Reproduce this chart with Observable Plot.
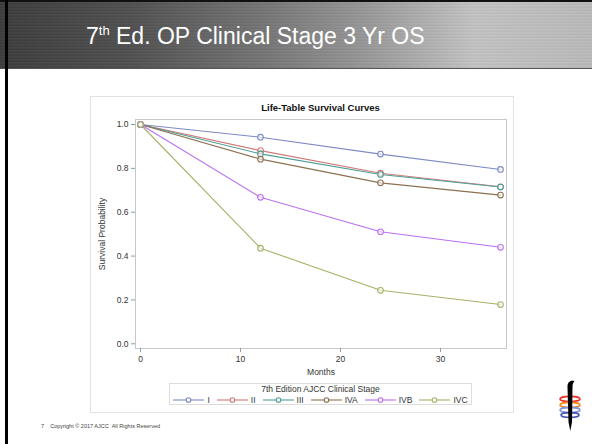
<!DOCTYPE html>
<html><head><meta charset="utf-8">
<script src="https://cdn.jsdelivr.net/npm/d3@7"></script>
<script src="https://cdn.jsdelivr.net/npm/@observablehq/plot@0.6"></script>
<style>
html,body{margin:0;padding:0;background:#fff;}
#slide{position:relative;width:592px;height:444px;overflow:hidden;background:#fff;font-family:"Liberation Sans",Arial,sans-serif;}
#bar{position:absolute;left:0;top:0;width:592px;height:68px;
 background:
  repeating-linear-gradient(180deg, rgba(255,255,255,0.05) 0px, rgba(0,0,0,0.07) 1px, rgba(255,255,255,0.05) 3px),
  linear-gradient(90deg,#3c3c3c 0%,#505050 22%,#777 45%,#9a9a9a 62%,#c6c6c6 80%,#bdbdbd 100%);
 border-bottom:1px solid #555;}
#title{position:absolute;left:86px;top:23px;color:#fff;font-size:23px;white-space:nowrap;}
#title sup{font-size:13px;vertical-align:9px;line-height:0;}
#lborder{position:absolute;left:5px;top:0;width:3px;height:444px;background:#000;}
#tborder{position:absolute;left:0;top:0;width:592px;height:2px;background:#111;}
#box{position:absolute;left:90px;top:96px;width:422px;height:315px;border:1px solid #e2e2e2;}
#chart{position:absolute;left:90px;top:96px;}
#ctitle{position:absolute;left:135px;width:371px;top:102px;text-align:center;font-weight:bold;font-size:9.5px;color:#111;}
#legend{position:absolute;left:169px;top:383px;width:301px;height:20px;border:1px solid #ddd;font-size:8.5px;color:#333;}
#legend .lt{text-align:center;line-height:10px;margin-top:0px;}
#legend .items{display:flex;justify-content:center;align-items:center;height:11px;}
#legend .it{display:flex;align-items:center;margin:0 3.5px;}
#legend .it span{margin-left:3px;}
#footer{position:absolute;left:41px;top:423px;font-size:5.5px;color:#444;white-space:nowrap;}
#logo{position:absolute;left:549px;top:377px;}
</style></head>
<body>
<div id="slide">
 <div id="bar"></div>
 <div id="tborder"></div>
 <div id="lborder"></div>
 <div id="title">7<sup>th</sup> Ed. OP Clinical Stage 3 Yr OS</div>
 <div id="box"></div>
 <div id="chart"></div>
 <div id="ctitle">Life-Table Survival Curves</div>
 <div id="legend"><div class="lt">7th Edition AJCC Clinical Stage</div><div class="items"></div></div>
 <div id="footer">7&nbsp;&nbsp;&nbsp;&nbsp;Copyright © 2017 AJCC&nbsp;&nbsp;All Rights Reserved</div>
 <svg id="logo" width="40" height="60" viewBox="0 0 40 60">
  <ellipse cx="21" cy="22" rx="10" ry="2.6" fill="none" stroke="#e8332a" stroke-width="1.6"/>
  <ellipse cx="21" cy="28" rx="10" ry="2.6" fill="none" stroke="#f08a1c" stroke-width="1.6"/>
  <ellipse cx="21" cy="33" rx="10" ry="2.6" fill="none" stroke="#7f93dc" stroke-width="1.6"/>
  <ellipse cx="21" cy="38" rx="9" ry="2.4" fill="none" stroke="#4455b5" stroke-width="1.6"/>
  <path d="M18.5 10 L23.5 10 L23 45 L21.3 54 L19.5 45 Z" fill="#000"/>
  <path d="M18.5 10 C18.5 5 21 3 25.5 4 C23.8 6 23.5 8 23.5 10 Z" fill="#000"/>
 </svg>
</div>
<script>
const months = [0, 12, 24, 36];
const stages = ["I", "II", "III", "IVA", "IVB", "IVC"];
const survI   = [1.0, 0.942, 0.865, 0.795];
const survII  = [1.0, 0.881, 0.778, 0.716];
const survIII = [1.0, 0.866, 0.772, 0.715];
const survIVA = [1.0, 0.842, 0.734, 0.678];
const survIVB = [1.0, 0.668, 0.511, 0.440];
const survIVC = [1.0, 0.436, 0.244, 0.179];
const colors = ["#7d8ac4", "#d07878", "#4c9f96", "#8d7152", "#bb70f0", "#a5b166"];
const yTicks = [0, 0.2, 0.4, 0.6, 0.8, 1.0];
const xTicks = [0, 10, 20, 30];

const series = [survI, survII, survIII, survIVA, survIVB, survIVC];
const data = [];
stages.forEach((s, i) => months.forEach((m, j) => data.push({stage: s, month: m, surv: series[i][j]})));

const chart = Plot.plot({
  width: 423, height: 285,
  marginLeft: 45, marginRight: 7, marginTop: 23, marginBottom: 33,
  style: {fontFamily: "'Liberation Sans', Arial, sans-serif", fontSize: "8.5px", color: "#333", background: "transparent"},
  x: {domain: [-0.5, 36.6]},
  y: {domain: [-0.0214, 1.0228]},
  color: {domain: stages, range: colors},
  marks: [
    Plot.frame({stroke: "#c4c8cc"}),
    Plot.axisY({ticks: yTicks, tickFormat: d3.format(".1f"), tickSize: 4, tickPadding: 3, stroke: "#999",
      label: "Survival Probability", labelAnchor: "center", labelOffset: 37, labelArrow: "none"}),
    Plot.axisX({ticks: xTicks, tickSize: 4, tickPadding: 3, stroke: "#999",
      label: "Months", labelAnchor: "center", labelOffset: 26, labelArrow: "none"}),
    Plot.line(data, {x: "month", y: "surv", z: "stage", stroke: "stage", strokeWidth: 1.1}),
    Plot.dot(data, {x: "month", y: "surv", stroke: "stage", fill: "white", fillOpacity: 0.6, r: 2.8, strokeWidth: 1.1})
  ]
});
document.getElementById("chart").appendChild(chart);

const items = document.querySelector("#legend .items");
stages.forEach((s, i) => {
  const d = document.createElement("div");
  d.className = "it";
  d.innerHTML = `<svg width="31" height="8"><line x1="0" y1="4" x2="31" y2="4" stroke="${colors[i]}" stroke-width="1.1"/><circle cx="15.5" cy="4" r="2.3" fill="white" stroke="${colors[i]}" stroke-width="1.1"/></svg><span>${s}</span>`;
  items.appendChild(d);
});
</script>
</body></html>
